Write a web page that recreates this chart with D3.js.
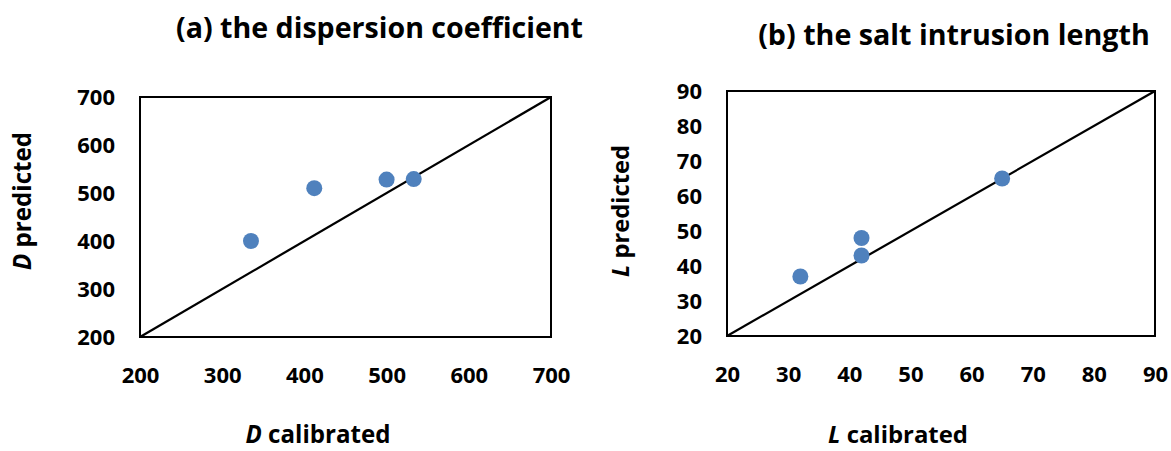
<!DOCTYPE html>
<html><head><meta charset="utf-8">
<script src="https://cdn.jsdelivr.net/npm/d3@7"></script>
<style>body{margin:0;background:#fff;} text{font-family:"Open Sans",sans-serif;font-weight:700;fill:#000;}</style>
</head><body>
<svg id="c" width="1171" height="451"></svg>
<script>
const dCalibrated = [335, 412, 500, 533];
const dPredicted  = [400, 510, 528, 529];
const lCalibrated = [32, 42, 42, 65];
const lPredicted  = [37, 48, 43, 65];
const dTicks = [200, 300, 400, 500, 600, 700];
const lTicks = [20, 30, 40, 50, 60, 70, 80, 90];

const svg = d3.select("#c");
function fit(sel, target){
  const n = sel.node();
  const w = n.getComputedTextLength();
  const fs = parseFloat(sel.style("font-size"));
  sel.style("font-size", (fs*target/w)+"px");
}
const panels = [
  {title:"(a) the dispersion coefficient", titleX:379.5, titleY:38, titleW:407, sym:"D",
   xs:dCalibrated, ys:dPredicted, ticks:dTicks, dom:[200,700],
   box:{l:140,r:551,t:97,b:337}, ylabX:31, ylabY:201, ylabW:138, xlabX:318, xlabW:145},
  {title:"(b) the salt intrusion length", titleX:954, titleY:45, titleW:392, sym:"L",
   xs:lCalibrated, ys:lPredicted, ticks:lTicks, dom:[20,90],
   box:{l:727,r:1155,t:91,b:336}, ylabX:629, ylabY:211, ylabW:132, xlabX:898, xlabW:140}
];
panels.forEach(p=>{
  const x = d3.scaleLinear().domain(p.dom).range([p.box.l,p.box.r]);
  const y = d3.scaleLinear().domain(p.dom).range([p.box.b,p.box.t]);
  const g = svg.append("g");
  const t = g.append("text").attr("x",p.titleX).attr("y",p.titleY).attr("text-anchor","middle")
    .style("font-size","26px").text(p.title);
  fit(t, p.titleW);
  g.append("rect").attr("x",p.box.l).attr("y",p.box.t).attr("width",p.box.r-p.box.l).attr("height",p.box.b-p.box.t)
    .attr("fill","none").attr("stroke","#000").attr("stroke-width",2);
  g.append("line").attr("x1",x(p.dom[0])).attr("y1",y(p.dom[0])).attr("x2",x(p.dom[1])).attr("y2",y(p.dom[1]))
    .attr("stroke","#000").attr("stroke-width",2.25);
  const xa = d3.axisBottom(x).tickValues(p.ticks).tickSize(0).tickPadding(0);
  const ya = d3.axisLeft(y).tickValues(p.ticks).tickSize(0).tickPadding(0);
  const gx = g.append("g").attr("transform",`translate(0,${p.box.b+38})`).call(xa);
  gx.select(".domain").remove();
  gx.selectAll("text").attr("dy","0.35em").attr("y",0)
    .style("font-size","22px").style("font-family","'Open Sans',sans-serif").style("font-weight","700");
  const gy = g.append("g").attr("transform",`translate(${p.box.l-25},0)`).call(ya);
  gy.select(".domain").remove();
  gy.selectAll("text").style("font-size","22px").style("font-family","'Open Sans',sans-serif").style("font-weight","700");
  g.selectAll("circle").data(p.xs.map((v,i)=>[v,p.ys[i]])).enter().append("circle")
    .attr("cx",d=>x(d[0])).attr("cy",d=>y(d[1])).attr("r",8).attr("fill","#4f81bd");
  const yl = g.append("text").attr("transform",`translate(${p.ylabX},${p.ylabY}) rotate(-90)`)
    .attr("text-anchor","middle").style("font-size","21px");
  yl.append("tspan").style("font-style","italic").text(p.sym);
  yl.append("tspan").text(" predicted");
  fit(yl, p.ylabW);
  const xl = g.append("text").attr("x",p.xlabX).attr("y",443).attr("text-anchor","middle").style("font-size","21px");
  xl.append("tspan").style("font-style","italic").text(p.sym);
  xl.append("tspan").text(" calibrated");
  fit(xl, p.xlabW);
});
</script>
</body></html>
